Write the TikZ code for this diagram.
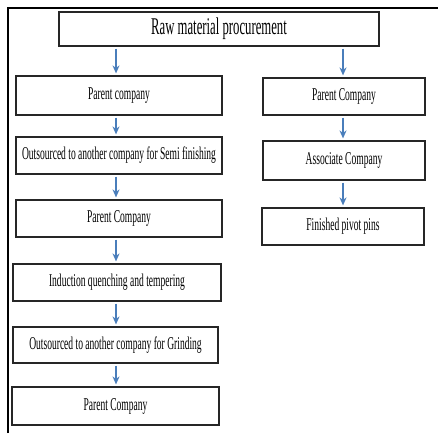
\documentclass[tikz,border=0pt]{standalone}
\usepackage{fontspec}
\setmainfont[FakeStretch=0.53]{Liberation Serif}
\usepackage{xcolor}
\usetikzlibrary{arrows.meta, positioning, calc}

\definecolor{arrowblue}{HTML}{4A7EBB}

\tikzset{
  stepbox/.style={draw=black!85, line width=1.2pt, rectangle, inner sep=0pt,
    font=\fontsize{18}{21}\selectfont},
  flow/.style={draw=arrowblue, line width=1.8pt,
    -{Stealth[length=8pt, width=7pt]}, shorten >=2pt, shorten <=2pt}
}

\begin{document}
\begin{tikzpicture}[x=1pt, y=-1pt]
\useasboundingbox (0,0) rectangle (438,433);

% frame
\draw[line width=2pt] (8,433) -- (8,8) -- (438,8);

% top box
\node[stepbox, minimum width=320pt, minimum height=34pt,
  font=\fontsize{24}{28}\selectfont] (raw) at (219,29) {Raw material procurement};

% left chain
\node[stepbox, minimum width=206pt, minimum height=39pt] (pcA) at (119,95.5) {Parent company};
\node[stepbox, minimum width=206pt, minimum height=37pt] (semi) at (119,155.5) {Outsourced to another company for Semi finishing};
\node[stepbox, minimum width=206pt, minimum height=37pt] (pcB) at (119,218.5) {Parent Company};
\node[stepbox, minimum width=208pt, minimum height=37pt] (induct) at (117,282.5) {Induction quenching and tempering};
\node[stepbox, minimum width=205pt, minimum height=36pt] (grind) at (115.5,345) {Outsourced to another company for Grinding};
\node[stepbox, minimum width=207pt, minimum height=38pt] (pcC) at (115.5,406) {Parent Company};

% right chain
\node[stepbox, minimum width=162pt, minimum height=37pt] (pcR) at (344,96.5) {Parent Company};
\node[stepbox, minimum width=162pt, minimum height=39pt] (assoc) at (344,160.5) {Associate Company};
\node[stepbox, minimum width=162pt, minimum height=37pt] (pins) at (343,226.5) {Finished pivot pins};

% arrows
\coordinate (colL) at (116,0);
\coordinate (colR) at (343,0);
\draw[flow] (raw.south -| colL) -- (pcA.north -| colL);
\draw[flow] (raw.south -| colR) -- (pcR.north -| colR);
\draw[flow] (pcA.south -| colL) -- (semi.north -| colL);
\draw[flow] (semi.south -| colL) -- (pcB.north -| colL);
\draw[flow] (pcB.south -| colL) -- (induct.north -| colL);
\draw[flow] (induct.south -| colL) -- (grind.north -| colL);
\draw[flow] (grind.south -| colL) -- (pcC.north -| colL);
\draw[flow] (pcR.south -| colR) -- (assoc.north -| colR);
\draw[flow] (assoc.south -| colR) -- (pins.north -| colR);
\end{tikzpicture}
\end{document}
